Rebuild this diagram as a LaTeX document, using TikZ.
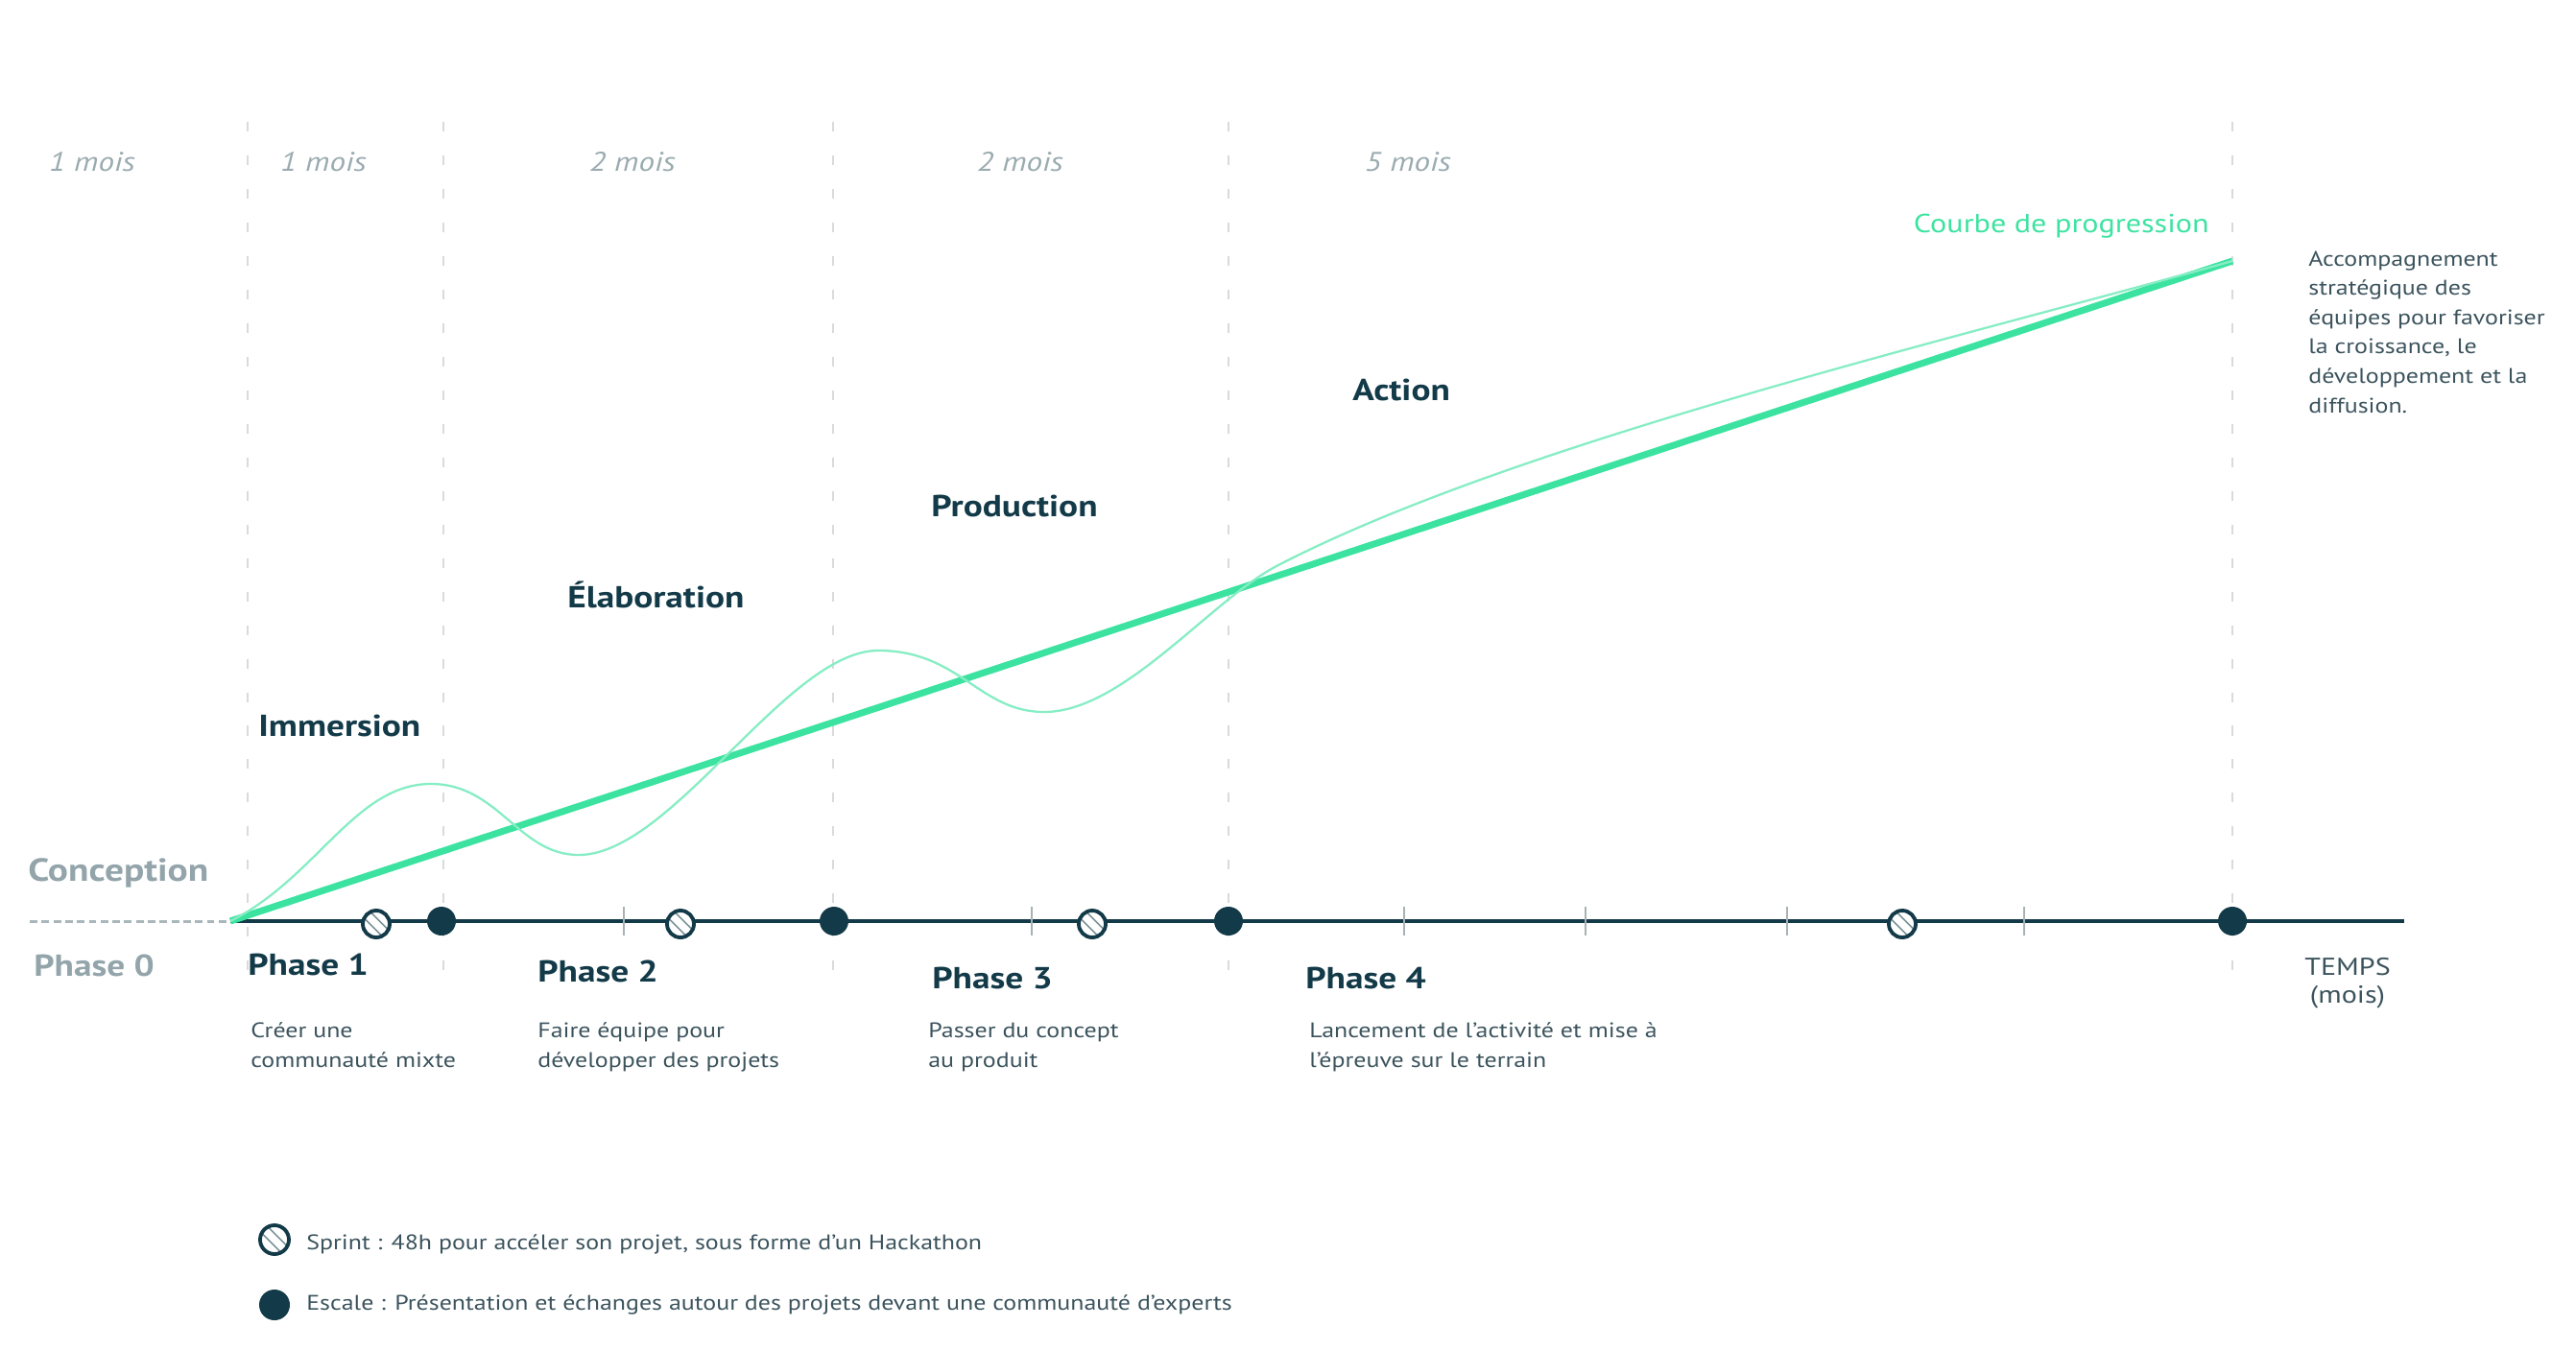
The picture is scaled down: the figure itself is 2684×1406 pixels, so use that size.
\documentclass[tikz,border=0pt]{standalone}
\usepackage{fontspec}
\setmainfont{PT Sans}[FakeStretch=1.18]
\usepackage{tikz}
\usetikzlibrary{positioning,calc}

\definecolor{navy}{HTML}{133A48}
\definecolor{slate}{HTML}{3B535D}
\definecolor{labelgrey}{HTML}{93A5AA}
\definecolor{monthgrey}{HTML}{9AABB0}
\definecolor{gridgrey}{HTML}{DADADA}
\definecolor{tickgrey}{HTML}{A8B2B5}
\definecolor{mint}{HTML}{3CE3A0}
\definecolor{mintlight}{HTML}{86EDC4}

\begin{document}
\begin{tikzpicture}[x=0.2mm, y=-0.2mm,
  grid/.style={draw=gridgrey, line width=1.6pt, dash pattern=on 5.7pt off 14.2pt},
  tickmark/.style={draw=tickgrey, line width=1.1pt},
  axis/.style={draw=navy, line width=2.8pt},
  phasezero/.style={draw=labelgrey!80, line width=1.7pt, dash pattern=on 4.5pt off 2.5pt},
  trend/.style={draw=mint, line width=4pt},
  wave/.style={draw=mintlight, line width=1.3pt},
  escale/.style={circle, fill=navy, minimum size=6mm, inner sep=0pt},
  sprint/.style={circle, draw=navy, line width=2.2pt, fill=white, minimum size=5.6mm, inner sep=0pt,
    path picture={
      \draw[navy!55, line width=0.9pt] ([shift={(-0.65mm,-0.65mm)}]path picture bounding box.center) ++(-4mm,4mm) -- ++(8mm,-8mm);
      \draw[navy!55, line width=0.9pt] ([shift={(0.65mm,0.65mm)}]path picture bounding box.center) ++(-4mm,4mm) -- ++(8mm,-8mm);
    }},
  month/.style={font=\fontsize{16}{19}\selectfont\itshape, text=monthgrey, anchor=base, inner sep=0pt},
  stage/.style={font=\fontsize{18}{22}\selectfont\bfseries, text=navy, anchor=base west, inner sep=0pt},
  desc/.style={font=\fontsize{12.5}{17.1}\selectfont, text=slate, align=left, anchor=base west, inner sep=0pt},
]
\useasboundingbox (0,0) rectangle (2684,1406);

% month grid
\foreach \x in {258,462,868,1280,2326}
  \draw[grid] (\x,127) -- (\x,1022);
\node[month] (m0) at (96,178) {1 mois};
\node[month] (m1) at (337,178) {1 mois};
\node[month] (m2) at (659,178) {2 mois};
\node[month] (m3) at (1063,178) {2 mois};
\node[month] (m4) at (1467,178) {5 mois};

% time axis
\coordinate (start) at (31,960);
\coordinate (origin) at (240,960);
\coordinate (axisend) at (2505,960);
\coordinate (goal) at (2326,272);
\draw[phasezero] (start) -- (origin);
\draw[axis] (origin) -- (axisend);
\foreach \x in {650,1075,1463,1652,1862,2109}
  \draw[tickmark] (\x,945) -- (\x,975);

% progression
\draw[trend] (origin) -- (goal);
\draw[wave] (origin) .. controls (330,915) and (370,817) .. (449,817)
  .. controls (520,817) and (540,891) .. (603,891)
  .. controls (700,891) and (820,678) .. (915,678)
  .. controls (1000,678) and (1020,742) .. (1088,742)
  .. controls (1170,742) and (1260,627) .. (1330,590)
  .. controls (1580,460) and (2050,350) .. (goal);
\node[font=\fontsize{15.5}{18}\selectfont, text=mint, anchor=base east, inner sep=0pt] (courbe) at (2302,242) {Courbe de progression};
% base of a multi-line node = its last line
\node[desc, font=\fontsize{12.5}{17.4}\selectfont] (accomp) at (2405,430) {Accompagnement\\stratégique des\\équipes pour favoriser\\la croissance, le\\développement et la\\diffusion.};

% milestones
\foreach \x [count=\i] in {392,709,1138,1982}
  \node[sprint] (spr\i) at (\x,963) {};
\foreach \x [count=\i] in {460,869,1280,2326}
  \node[escale] (esc\i) at (\x,960) {};

% stages
\node[stage] (immersion) at (269,767) {Immersion};
\node[stage] (elaboration) at (591,633) {Élaboration};
\node[stage] (production) at (970,538) {Production};
\node[stage] (action) at (1409,417) {Action};

% phases
\node[stage, text=labelgrey, font=\fontsize{19}{23}\selectfont\bfseries] (conception) at (29,918) {Conception};
\node[stage, text=labelgrey] (phase0) at (35,1017) {Phase 0};
\node[stage] (phase1) at (258,1016) {Phase 1};
\node[stage] (phase2) at (560,1023) {Phase 2};
\node[stage] (phase3) at (971,1030) {Phase 3};
\node[stage] (phase4) at (1360,1030) {Phase 4};
\node[desc, align=center, anchor=base, font=\fontsize{14.5}{16}\selectfont] (temps) at (2446,1045) {TEMPS\\(mois)};

\node[desc] (d1) at (261,1112) {Créer une\\communauté mixte};
\node[desc] (d2) at (560,1112) {Faire équipe pour\\développer des projets};
\node[desc] (d3) at (967,1112) {Passer du concept\\au produit};
\node[desc] (d4) at (1364,1112) {Lancement de l’activité et mise à\\l’épreuve sur le terrain};

% legend
\node[sprint, minimum size=6mm] (legsprint) at (286,1292) {};
\node[escale, minimum size=6.4mm] (legescale) at (286,1360) {};
\node[desc] (legtext1) at (319,1302) {Sprint : 48h pour accéler son projet, sous forme d’un Hackathon};
\node[desc] (legtext2) at (319,1365) {Escale : Présentation et échanges autour des projets devant une communauté d’experts};
\end{tikzpicture}
\end{document}
